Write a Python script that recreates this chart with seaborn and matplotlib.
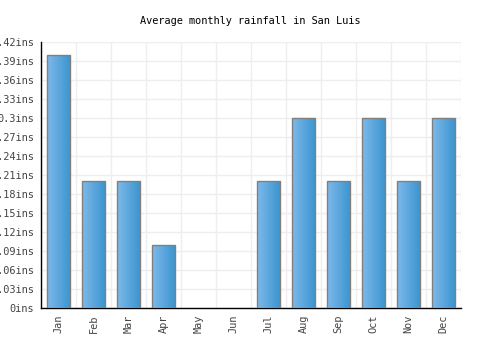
import numpy as np
import pandas as pd
import seaborn as sns
import matplotlib
matplotlib.use("Agg")
import matplotlib.pyplot as plt
from matplotlib.colors import LinearSegmentedColormap

months = ['Jan', 'Feb', 'Mar', 'Apr', 'May', 'Jun', 'Jul', 'Aug', 'Sep', 'Oct', 'Nov', 'Dec']
rainfall = [0.4, 0.2, 0.2, 0.1, 0.0, 0.0, 0.2, 0.3, 0.2, 0.3, 0.2, 0.3]
yticks = [0, 0.03, 0.06, 0.09, 0.12, 0.15, 0.18, 0.21, 0.24, 0.27, 0.3, 0.33, 0.36, 0.39, 0.42]

df = pd.DataFrame({'month': months, 'rain': rainfall})

sns.set_style('white')
plt.rcParams['font.family'] = ['DejaVu Sans Mono']

fig = plt.figure(figsize=(5, 3.5), dpi=100)
ax = fig.add_axes([0.082, 0.12, 0.84, 0.76])

sns.barplot(data=df, x='month', y='rain', color='#5aa8e0', width=0.68,
            edgecolor='#808080', linewidth=1, saturation=1, ax=ax, zorder=3)

# gradient fill on each bar, hide empty ones
cmap = LinearSegmentedColormap.from_list('bar', ['#7db9ea', '#3a94cf'])
grad = np.linspace(0, 1, 64).reshape(1, -1)
for p in ax.patches:
    if p.get_height() <= 0:
        p.set_visible(False)
        continue
    x0, w, h = p.get_x(), p.get_width(), p.get_height()
    im = ax.imshow(grad, cmap=cmap, aspect='auto', extent=[x0, x0 + w, 0, h],
                   zorder=3.5)
    im.set_clip_path(p)
    p.set_facecolor('none')
    p.set_zorder(4)

ax.set_xlim(-0.5, len(months) - 0.5)
ax.set_ylim(0, 0.42)
ax.set_yticks(yticks)
ax.set_yticklabels([f'{v:g}ins' for v in yticks])
ax.set_xticks(range(len(months)))
ax.set_xticklabels(months, rotation=90)
ax.set_xticks(np.arange(-0.5, len(months), 1), minor=True)

ax.grid(axis='y', color='#eeeeee', linewidth=1, zorder=0)
ax.grid(axis='x', which='minor', color='#eeeeee', linewidth=1, zorder=0)
ax.grid(axis='x', which='major', visible=False)

for s in ['top', 'right']:
    ax.spines[s].set_visible(False)
for s in ['left', 'bottom']:
    ax.spines[s].set_color('black')
    ax.spines[s].set_linewidth(1)

ax.tick_params(axis='both', which='major', labelsize=7.4, labelcolor='#444444',
               length=0, pad=5)
ax.tick_params(axis='x', which='minor', length=0)
ax.set_xlabel('')
ax.set_ylabel('')

fig.suptitle('Average monthly rainfall in San Luis', y=0.955, fontsize=7.4,
             color='black')

fig.savefig('out.png', dpi=100)
